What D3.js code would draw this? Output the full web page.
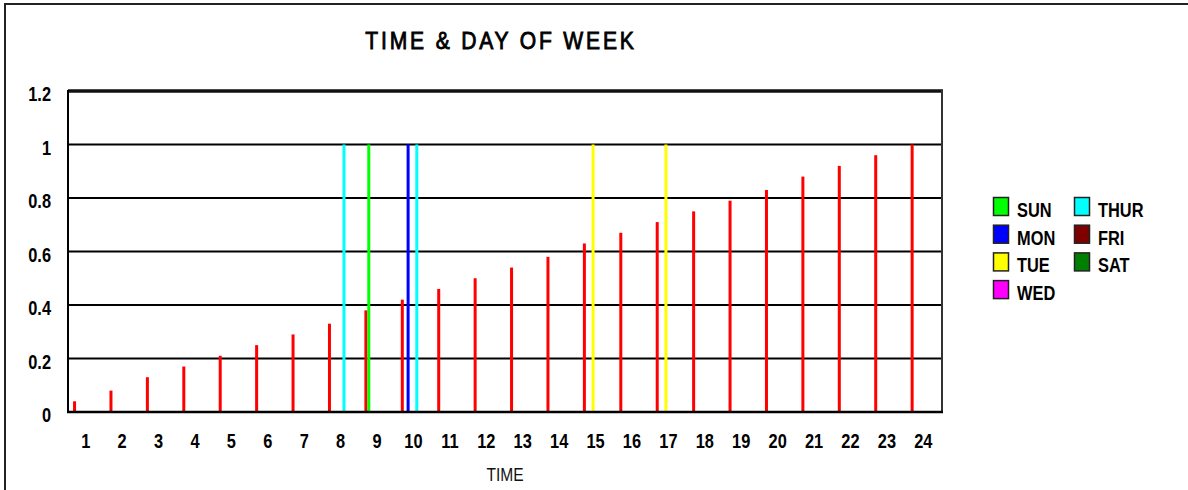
<!DOCTYPE html>
<html lang="en">

<head>
    <meta charset="UTF-8">
    <title>Time & Day of Week</title>
    <style>
        body {
            margin: 0;
            padding: 0;
            background-color: white;
        }

        svg {
            display: block;
            font-family: "Liberation Sans", Arial, sans-serif;
        }

        .tick-label,
        .legend-label {
            font-size: 20px;
            font-weight: bold;
            fill: #000;
        }
    </style>
</head>

<body>
    <svg id="chart" width="1188" height="490"></svg>

    <script src="https://d3js.org/d3.v7.min.js"></script>
    <script>
        // hours on the x axis
        const hours = ['1', '2', '3', '4', '5', '6', '7', '8', '9', '10', '11', '12',
            '13', '14', '15', '16', '17', '18', '19', '20', '21', '22', '23', '24'];

        // red series (time)
        const timeValues = [0.04, 0.08, 0.13, 0.17, 0.21, 0.25, 0.29, 0.33, 0.38, 0.42, 0.46, 0.50,
            0.54, 0.58, 0.63, 0.67, 0.71, 0.75, 0.79, 0.83, 0.88, 0.92, 0.96, 1.00];

        // day of week series, one value per hour
        const sunValues = [0, 0, 0, 0, 0, 0, 0, 0, 1, 0, 0, 0, 0, 0, 0, 0, 0, 0, 0, 0, 0, 0, 0, 0];
        const monValues = [0, 0, 0, 0, 0, 0, 0, 0, 0, 1, 0, 0, 0, 0, 0, 0, 0, 0, 0, 0, 0, 0, 0, 0];
        const tueValues = [0, 0, 0, 0, 0, 0, 0, 0, 0, 0, 0, 0, 0, 0, 1, 0, 1, 0, 0, 0, 0, 0, 0, 0];
        const wedValues = [0, 0, 0, 0, 0, 0, 0, 0, 0, 0, 0, 0, 0, 0, 0, 0, 0, 0, 0, 0, 0, 0, 0, 0];
        const thurValues = [0, 0, 0, 0, 0, 0, 0, 1, 0, 1, 0, 0, 0, 0, 0, 0, 0, 0, 0, 0, 0, 0, 0, 0];
        const friValues = [0, 0, 0, 0, 0, 0, 0, 0, 0, 0, 0, 0, 0, 0, 0, 0, 0, 0, 0, 0, 0, 0, 0, 0];
        const satValues = [0, 0, 0, 0, 0, 0, 0, 0, 0, 0, 0, 0, 0, 0, 0, 0, 0, 0, 0, 0, 0, 0, 0, 0];

        const yTicks = [0, 0.2, 0.4, 0.6, 0.8, 1, 1.2];
        const yTickLabels = ['0', '0.2', '0.4', '0.6', '0.8', '1', '1.2'];

        const series = [
            { name: 'TIME', color: '#ff0000', values: timeValues, legend: false },
            { name: 'SUN', color: '#00ff00', values: sunValues, legend: true },
            { name: 'MON', color: '#0000ff', values: monValues, legend: true },
            { name: 'TUE', color: '#ffff00', values: tueValues, legend: true },
            { name: 'WED', color: '#ff00ff', values: wedValues, legend: true },
            { name: 'THUR', color: '#00ffff', values: thurValues, legend: true },
            { name: 'FRI', color: '#7f0000', values: friValues, legend: true },
            { name: 'SAT', color: '#007f00', values: satValues, legend: true }
        ];

        // no narrow font installed, so squeeze Liberation Sans sideways
        const narrow = 0.82;

        const svg = d3.select('#chart');

        const plot = { left: 68, right: 942, top: 91, bottom: 412 };

        // outer frame, runs off the right and bottom edge
        svg.append('rect')
            .attr('x', 5)
            .attr('y', 4)
            .attr('width', 1300)
            .attr('height', 600)
            .attr('fill', 'none')
            .attr('stroke', '#222')
            .attr('stroke-width', 2);

        const x0 = d3.scaleBand()
            .domain(hours)
            .range([plot.left, plot.right]);

        const x1 = d3.scaleBand()
            .domain(series.map(s => s.name))
            .range([5.1, 28.3]);

        const y = d3.scaleLinear()
            .domain([0, 1.2])
            .range([plot.bottom, plot.top]);

        // gridlines
        svg.append('g')
            .selectAll('line')
            .data(yTicks.slice(1, -1))
            .enter()
            .append('line')
            .attr('x1', plot.left)
            .attr('x2', plot.right)
            .attr('y1', d => y(d))
            .attr('y2', d => y(d))
            .attr('stroke', '#000')
            .attr('stroke-width', 2);

        // top border (double line)
        svg.append('line')
            .attr('x1', plot.left)
            .attr('x2', plot.right + 1)
            .attr('y1', y(1.2))
            .attr('y2', y(1.2))
            .attr('stroke', '#111')
            .attr('stroke-width', 3.5);

        // right border
        svg.append('line')
            .attr('x1', plot.right)
            .attr('x2', plot.right)
            .attr('y1', y(1.2) - 1)
            .attr('y2', plot.bottom)
            .attr('stroke', '#333')
            .attr('stroke-width', 2);

        // bars
        const groups = svg.append('g')
            .selectAll('g')
            .data(series)
            .enter()
            .append('g')
            .attr('fill', d => d.color);

        groups.selectAll('rect')
            .data(d => d.values.map((v, i) => ({ name: d.name, hour: hours[i], value: v })).filter(e => e.value > 0))
            .enter()
            .append('rect')
            .attr('x', d => x0(d.hour) + x1(d.name) + x1.bandwidth() / 2 - 1.5)
            .attr('width', 3)
            .attr('y', d => y(d.value))
            .attr('height', d => y(0) - y(d.value));

        // axes lines
        svg.append('line')
            .attr('x1', plot.left)
            .attr('x2', plot.left)
            .attr('y1', y(1.2) - 1)
            .attr('y2', plot.bottom + 1)
            .attr('stroke', '#000')
            .attr('stroke-width', 2);

        svg.append('line')
            .attr('x1', plot.left - 1)
            .attr('x2', plot.right + 1)
            .attr('y1', plot.bottom)
            .attr('y2', plot.bottom)
            .attr('stroke', '#000')
            .attr('stroke-width', 2.5);

        // y tick labels
        svg.append('g')
            .selectAll('text')
            .data(yTicks)
            .enter()
            .append('text')
            .attr('class', 'tick-label')
            .attr('transform', d => `translate(51,${y(d) + 10}) scale(${narrow},1)`)
            .attr('text-anchor', 'end')
            .text((d, i) => yTickLabels[i]);

        // x tick labels
        svg.append('g')
            .selectAll('text')
            .data(hours)
            .enter()
            .append('text')
            .attr('class', 'tick-label')
            .attr('transform', d => `translate(${x0(d) + x0.bandwidth() / 2 - 0.5},448) scale(${narrow},1)`)
            .attr('text-anchor', 'middle')
            .text(d => d);

        // title
        svg.append('text')
            .attr('transform', `translate(501,49) scale(0.86,1)`)
            .attr('text-anchor', 'middle')
            .attr('font-size', 24.5)
            .attr('letter-spacing', 3.3)
            .attr('fill', '#000')
            .attr('stroke', '#000')
            .attr('stroke-width', 0.9)
            .text('TIME & DAY OF WEEK');

        // x axis title
        svg.append('text')
            .attr('transform', `translate(505,481) scale(${narrow},1)`)
            .attr('text-anchor', 'middle')
            .attr('font-size', 19)
            .attr('fill', '#111')
            .text('TIME');

        // legend, four rows per column
        const legendItems = series.filter(s => s.legend);
        const legend = svg.append('g')
            .selectAll('g')
            .data(legendItems)
            .enter()
            .append('g')
            .attr('transform', (d, i) => `translate(${993 + Math.floor(i / 4) * 81},${197 + (i % 4) * 27.7})`);

        legend.append('rect')
            .attr('x', 0.5)
            .attr('y', 0.5)
            .attr('width', 15)
            .attr('height', 18)
            .attr('fill', d => d.color)
            .attr('stroke', '#222')
            .attr('stroke-width', 1.5);

        legend.append('text')
            .attr('class', 'legend-label')
            .attr('transform', `translate(24,20) scale(${narrow},1)`)
            .text(d => d.name);
    </script>
</body>

</html>
